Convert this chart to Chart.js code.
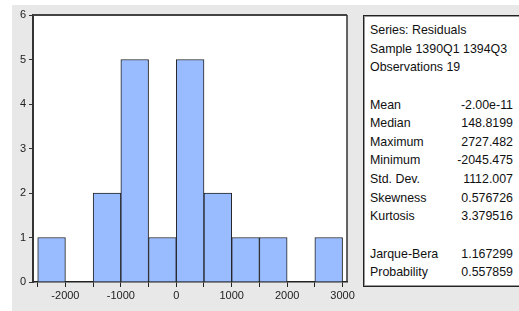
<!DOCTYPE html>
<html>
<head>
<meta charset="utf-8">
<script src="https://cdn.jsdelivr.net/npm/chart.js@4/dist/chart.umd.min.js"></script>
<style>
  html, body { margin: 0; padding: 0; background: #ffffff; overflow: hidden; }
  #wrap { position: relative; width: 519px; height: 311px; overflow: hidden; }
  #c { position: absolute; left: 0; top: 0; }
  #stats {
    position: absolute; left: 363px; top: 15px; width: 220px; height: 272px;
    background: #ffffff; border: 1px solid #222; box-shadow: inset 0 0 0 1px #999;
    font-family: "Liberation Sans", Arial, sans-serif; font-size: 12.4px; color: #111;
    line-height: 18.65px; box-sizing: border-box; padding: 5px 0 0 6px;
  }
  .row { width: 143px; height: 18.65px; white-space: nowrap; display: flex; justify-content: space-between; }
</style>
</head>
<body>
<div id="wrap">
  <canvas id="c" width="519" height="311"></canvas>
  <div id="stats"></div>
</div>
<script>
// Histogram bins (bin centers, width 500) and counts
const binCenters = [-2250, -1750, -1250, -750, -250, 250, 750, 1250, 1750, 2250, 2750];
const counts     = [1, 0, 2, 5, 1, 5, 2, 1, 1, 0, 1];
const yTicks = [0, 1, 2, 3, 4, 5, 6];
// x tick marks at bin edges, labels only at thousands
const xTickValues = [-2500, -2000, -1500, -1000, -500, 0, 500, 1000, 1500, 2000, 2500, 3000];
const xLabelValues = [-2000, -1000, 0, 1000, 2000, 3000];

// Statistics panel
const headerLines = ["Series: Residuals", "Sample 1390Q1 1394Q3", "Observations 19"];
const statNames  = ["Mean", "Median", "Maximum", "Minimum", "Std. Dev.", "Skewness", "Kurtosis"];
const statValues = ["-2.00e-11", "148.8199", "2727.482", "-2045.475", "1112.007", "0.576726", "3.379516"];
const testNames  = ["Jarque-Bera", "Probability"];
const testValues = ["1.167299", "0.557859"];

(function buildStats() {
  const box = document.getElementById('stats');
  let html = '';
  headerLines.forEach(t => { html += '<div class="row"><span>' + t + '</span></div>'; });
  html += '<div class="row"></div>';
  statNames.forEach((n, i) => { html += '<div class="row"><span>' + n + '</span><span>' + statValues[i] + '</span></div>'; });
  html += '<div class="row"></div>';
  testNames.forEach((n, i) => { html += '<div class="row"><span>' + n + '</span><span>' + testValues[i] + '</span></div>'; });
  box.innerHTML = html;
})();

const bgPlugin = {
  id: 'bg',
  beforeDraw(chart) {
    const ctx = chart.ctx, a = chart.chartArea;
    ctx.save();
    ctx.fillStyle = '#e8e8e8';
    ctx.fillRect(12, 5, chart.width - 12, chart.height - 5);
    ctx.fillStyle = '#ffffff';
    ctx.fillRect(a.left, a.top, a.right - a.left, a.bottom - a.top);
    ctx.restore();
  },
  afterDraw(chart) {
    const ctx = chart.ctx, a = chart.chartArea;
    ctx.save();
    ctx.strokeStyle = '#444';
    ctx.lineWidth = 2;
    ctx.beginPath();
    ctx.moveTo(a.left, a.top);
    ctx.lineTo(a.right, a.top);
    ctx.stroke();
    ctx.lineWidth = 1.5;
    ctx.strokeStyle = '#333';
    ctx.beginPath();
    ctx.moveTo(a.right, a.top);
    ctx.lineTo(a.right, a.bottom);
    ctx.stroke();
    ctx.restore();
  }
};

const font = { family: '"Liberation Sans", Arial, sans-serif', size: 11 };

new Chart(document.getElementById('c'), {
  type: 'bar',
  data: {
    datasets: [{
      data: binCenters.map((x, i) => ({ x: x, y: counts[i] })),
      backgroundColor: '#99bbff',
      borderColor: '#222',
      borderWidth: 1,
      borderSkipped: 'start',
      barPercentage: 1,
      categoryPercentage: 1,
      grouped: false
    }]
  },
  options: {
    responsive: false,
    devicePixelRatio: 1,
    animation: false,
    layout: { padding: { left: 12, top: 15, right: 172, bottom: 0 } },
    plugins: { legend: { display: false }, tooltip: { enabled: false } },
    scales: {
      x: {
        type: 'linear',
        offset: false,
        min: -2585,
        max: 3080,
        afterBuildTicks(s) { s.ticks = xTickValues.map(v => ({ value: v })); },
        grid: { offset: false, drawOnChartArea: false, drawTicks: true, tickLength: 5, color: '#222', lineWidth: 1 },
        border: { display: true, color: '#222', width: 1.5 },
        ticks: {
          autoSkip: false,
          maxRotation: 0,
          minRotation: 0,
          padding: 2,
          color: '#222',
          font: font,
          callback: function (v) {
            return xLabelValues.indexOf(v) >= 0 ? String(v) : '';
          }
        },
        afterFit(s) { s.height = 29; }
      },
      y: {
        min: yTicks[0],
        max: yTicks[yTicks.length - 1],
        afterBuildTicks(s) { s.ticks = yTicks.map(v => ({ value: v })); },
        grid: { drawOnChartArea: false, drawTicks: true, tickLength: 4, color: '#333', lineWidth: 1 },
        border: { display: true, color: '#333', width: 2 },
        ticks: { padding: 3, color: '#222', font: font },
        afterFit(s) { s.width = 21; }
      }
    }
  },
  plugins: [bgPlugin]
});
</script>
</body>
</html>
